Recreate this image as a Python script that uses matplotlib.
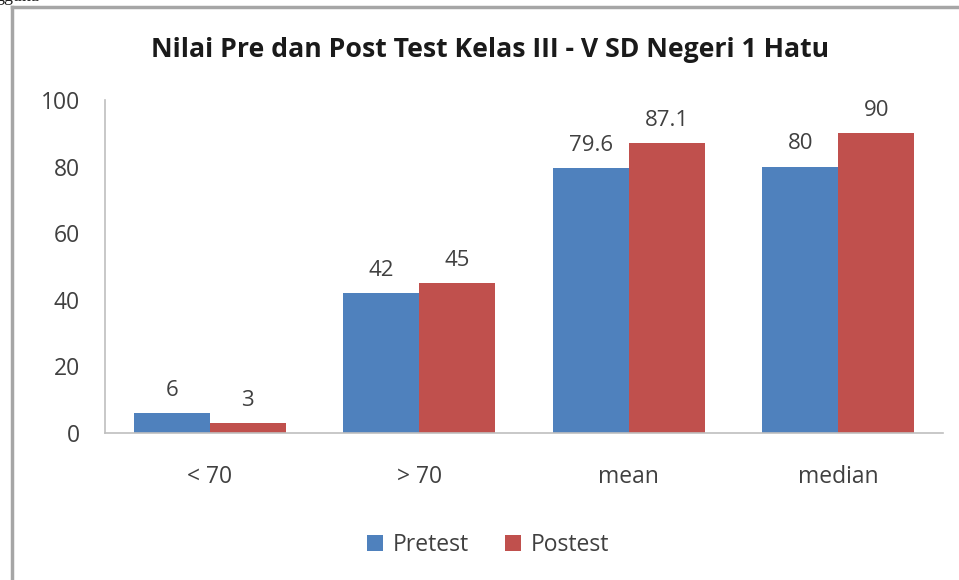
import matplotlib
matplotlib.use('Agg')
import matplotlib.pyplot as plt
import numpy as np

plt.rcParams['font.family'] = ['Open Sans', 'DejaVu Sans']

# data
categories = ['< 70', '> 70', 'mean', 'median']
pretest = [6, 42, 79.6, 80]
postest = [3, 45, 87.1, 90]
pre_labels = ['6', '42', '79.6', '80']
post_labels = ['3', '45', '87.1', '90']

blue = '#4F81BD'
red = '#C0504D'
text_gray = '#404040'

fig = plt.figure(figsize=(9.59, 5.8), dpi=100)
ax = fig.add_axes([0.1095, 0.2534, 0.874, 0.574])

x = np.arange(len(categories))
w = 0.363
b1 = ax.bar(x - w / 2, pretest, w, color=blue, label='Pretest')
b2 = ax.bar(x + w / 2, postest, w, color=red, label='Postest')

ax.bar_label(b1, labels=pre_labels, padding=9, fontsize=16, color=text_gray)
ax.bar_label(b2, labels=post_labels, padding=9, fontsize=16, color=text_gray)

ax.set_xlim(-0.5, len(categories) - 0.5)
ax.set_ylim(0, 100)
ax.set_yticks([0, 20, 40, 60, 80, 100])
ax.set_xticks(x)
ax.set_xticklabels(categories)
ax.tick_params(axis='both', length=0, labelsize=16.5, labelcolor=text_gray)
ax.tick_params(axis='y', pad=18)
ax.tick_params(axis='x', pad=23)

for s in ['top', 'right']:
    ax.spines[s].set_visible(False)
for s in ['left', 'bottom']:
    ax.spines[s].set_color('#BFBFBF')
    ax.spines[s].set_linewidth(1.2)

fig.text(0.511, 0.914, 'Nilai Pre dan Post Test Kelas III - V SD Negeri 1 Hatu',
         ha='center', va='center', fontsize=19.2, fontweight='bold', color='#1a1a1a')

ax.legend(loc='center', bbox_to_anchor=(0.509, 0.06), bbox_transform=fig.transFigure,
          ncol=2, frameon=False, fontsize=16.5, handlelength=0.7, handleheight=0.7,
          handletextpad=0.4, columnspacing=1.6, labelcolor=text_gray)

# cut-off text from the page above the chart
fig.text(-0.005, 1 - 1 / 580, 'gguna', ha='left', va='baseline', fontsize=13,
         family='Liberation Serif', color='#202020')

# frame around the chart (screenshot border)
fig.add_artist(plt.Line2D([12 / 959, 12 / 959], [0, 1 - 7 / 580], color='#A6A6A6', lw=2.5))
fig.add_artist(plt.Line2D([12 / 959, 957 / 959], [1 - 7 / 580, 1 - 7 / 580], color='#A6A6A6', lw=2.5))

fig.savefig('out.png', dpi=100)
